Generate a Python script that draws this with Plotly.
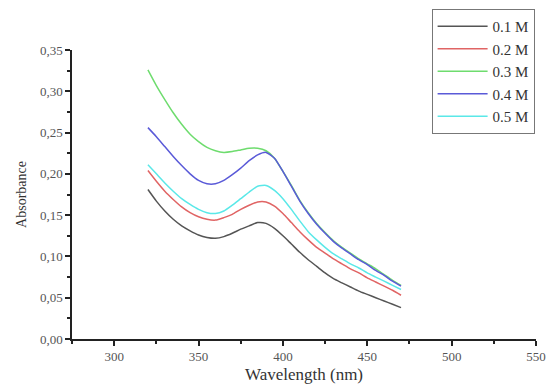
import plotly.graph_objects as go

wavelength = [320, 325, 330, 335, 340, 345, 350, 355, 360, 365, 370, 375, 380, 385, 390,
              395, 400, 405, 410, 415, 420, 425, 430, 435, 440, 445, 450, 455, 460, 465, 470]

abs_01 = [0.181, 0.167, 0.155, 0.145, 0.137, 0.131, 0.126, 0.123, 0.122, 0.124, 0.128, 0.133, 0.137, 0.141, 0.140,
          0.134, 0.125, 0.115, 0.105, 0.096, 0.088, 0.080, 0.073, 0.068, 0.063, 0.058, 0.054, 0.050, 0.046, 0.042, 0.038]
abs_02 = [0.204, 0.191, 0.179, 0.169, 0.160, 0.153, 0.148, 0.145, 0.144, 0.147, 0.151, 0.157, 0.162, 0.166, 0.166,
          0.161, 0.152, 0.141, 0.130, 0.120, 0.111, 0.104, 0.097, 0.091, 0.085, 0.080, 0.074, 0.069, 0.064, 0.059, 0.053]
abs_03 = [0.326, 0.307, 0.290, 0.274, 0.260, 0.248, 0.239, 0.232, 0.228, 0.226, 0.227, 0.229, 0.231, 0.231, 0.228,
          0.219, 0.203, 0.186, 0.168, 0.153, 0.140, 0.129, 0.119, 0.111, 0.104, 0.097, 0.091, 0.085, 0.078, 0.071, 0.065]
abs_04 = [0.256, 0.245, 0.233, 0.221, 0.210, 0.200, 0.192, 0.188, 0.188, 0.192, 0.199, 0.207, 0.216, 0.223, 0.226,
          0.219, 0.203, 0.185, 0.167, 0.152, 0.139, 0.128, 0.118, 0.110, 0.103, 0.096, 0.090, 0.083, 0.077, 0.070, 0.064]
abs_05 = [0.211, 0.200, 0.189, 0.179, 0.170, 0.163, 0.157, 0.153, 0.152, 0.155, 0.162, 0.170, 0.178, 0.185, 0.186,
          0.180, 0.170, 0.157, 0.143, 0.130, 0.120, 0.111, 0.103, 0.097, 0.091, 0.086, 0.080, 0.075, 0.070, 0.065, 0.060]

labels = ["0.1 M", "0.2 M", "0.3 M", "0.4 M", "0.5 M"]
series = [abs_01, abs_02, abs_03, abs_04, abs_05]
colors = ["#555555", "#e06464", "#6edc6e", "#5a5ad8", "#5ae8e8"]

fig = go.Figure()
for lab, ys, c in zip(labels, series, colors):
    fig.add_trace(go.Scatter(x=wavelength, y=ys, mode="lines", name=lab,
                             line=dict(color=c, width=1.5, shape="spline", smoothing=0.6)))

serif = "Times New Roman, Liberation Serif, serif"
axis_common = dict(
    showline=True, linecolor="#222222", linewidth=1.5, ticks="outside", ticklen=5,
    tickwidth=1.5, tickcolor="#222222", showgrid=False, zeroline=False, mirror=False,
    tickfont=dict(family=serif, size=13, color="#555555"),
    ticklabeloverflow="allow",
)
fig.update_layout(
    width=555, height=390,
    margin=dict(l=72, r=9, t=50, b=44),
    paper_bgcolor="white", plot_bgcolor="white",
    separators=", ",
    font=dict(family=serif, color="#333333"),
    xaxis=dict(range=[275, 550], tickvals=[300, 350, 400, 450, 500, 550],
               minor=dict(tickvals=[275, 325, 375, 425, 475, 525], ticks="outside", ticklen=3, tickwidth=1.5, tickcolor="#222222"),
               title=dict(text="Wavelength (nm)", font=dict(family=serif, size=17, color="#333333"), standoff=5),
               **axis_common),
    yaxis=dict(range=[0, 0.35], tickvals=[0, 0.05, 0.10, 0.15, 0.20, 0.25, 0.30, 0.35],
               tickformat=".2f",
               minor=dict(tickvals=[0.025, 0.075, 0.125, 0.175, 0.225, 0.275, 0.325], ticks="outside", ticklen=3, tickwidth=1.5, tickcolor="#222222"),
               title=dict(text="Absorbance", font=dict(family=serif, size=14, color="#333333"), standoff=10),
               **axis_common),
    legend=dict(x=0.775, y=1.142, xanchor="left", yanchor="top",
                bordercolor="#777777", borderwidth=1, bgcolor="white",
                font=dict(family=serif, size=15, color="#333333"),
                itemwidth=50, tracegroupgap=0),
    showlegend=True,
)

fig.write_html("out.html")
